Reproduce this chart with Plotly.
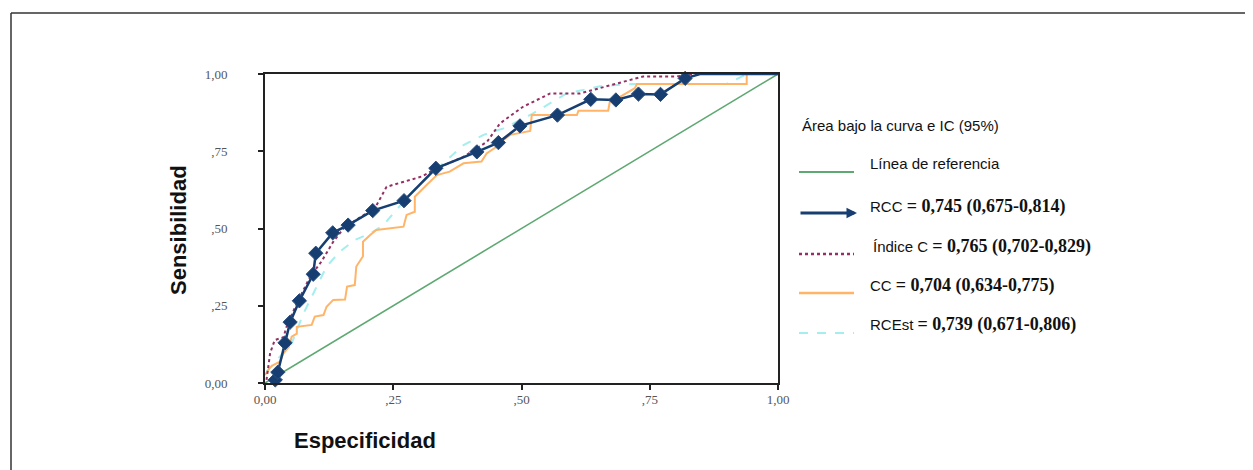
import plotly.graph_objects as go

# ---------------- data ----------------
ref_x = [0.0, 1.0]
ref_y = [0.0, 1.0]

rcc_x = [0.02, 0.025, 0.039, 0.049, 0.067, 0.094, 0.099, 0.132, 0.162, 0.21, 0.271, 0.333,
         0.413, 0.455, 0.497, 0.57, 0.635, 0.684, 0.728, 0.771, 0.819, 0.848, 0.94, 1.0]
rcc_y = [0.01, 0.035, 0.13, 0.197, 0.266, 0.352, 0.42, 0.486, 0.511, 0.558, 0.59, 0.695,
         0.748, 0.778, 0.832, 0.867, 0.918, 0.916, 0.935, 0.934, 0.986, 1.0, 1.0, 1.0]
rcc_marker_x = [0.02, 0.025, 0.039, 0.049, 0.067, 0.094, 0.099, 0.132, 0.162, 0.21, 0.271, 0.333,
                0.413, 0.455, 0.497, 0.57, 0.635, 0.684, 0.728, 0.771, 0.819]
rcc_marker_y = [0.01, 0.035, 0.13, 0.197, 0.266, 0.352, 0.42, 0.486, 0.511, 0.558, 0.59, 0.695,
                0.748, 0.778, 0.832, 0.867, 0.918, 0.916, 0.935, 0.934, 0.986]

ic_x = [0.003, 0.01, 0.019, 0.036, 0.042, 0.062, 0.088, 0.11, 0.133, 0.153, 0.185, 0.214,
        0.237, 0.276, 0.305, 0.335, 0.387, 0.433, 0.458, 0.503, 0.556, 0.614, 0.653, 0.705,
        0.737, 0.802, 0.835, 0.88]
ic_y = [0.01, 0.097, 0.139, 0.148, 0.182, 0.258, 0.344, 0.393, 0.457, 0.5, 0.536, 0.565,
        0.635, 0.654, 0.668, 0.695, 0.732, 0.781, 0.84, 0.894, 0.937, 0.937, 0.954, 0.979,
        0.992, 0.992, 1.0, 1.0]

cc_x = [0.0, 0.01, 0.016, 0.029, 0.036, 0.047, 0.052, 0.062, 0.062, 0.091, 0.097, 0.114,
        0.12, 0.133, 0.156, 0.16, 0.175, 0.178, 0.191, 0.191, 0.205, 0.217, 0.27, 0.276,
        0.292, 0.292, 0.315, 0.335, 0.36, 0.387, 0.422, 0.432, 0.452, 0.458, 0.478, 0.517,
        0.52, 0.608, 0.611, 0.669, 0.673, 0.692, 0.721, 0.725, 0.809, 0.939, 0.939, 1.0]
cc_y = [0.026, 0.05, 0.058, 0.069, 0.096, 0.118, 0.15, 0.16, 0.182, 0.188, 0.215, 0.22,
        0.247, 0.269, 0.27, 0.312, 0.317, 0.377, 0.41, 0.457, 0.479, 0.495, 0.506, 0.544,
        0.554, 0.603, 0.641, 0.673, 0.684, 0.711, 0.717, 0.743, 0.765, 0.778, 0.803, 0.816,
        0.867, 0.867, 0.881, 0.881, 0.918, 0.926, 0.954, 0.968, 0.968, 0.968, 1.0, 1.0]

est_x = [0.003, 0.029, 0.052, 0.075, 0.101, 0.12, 0.146, 0.175, 0.205, 0.231, 0.25, 0.27,
         0.296, 0.322, 0.348, 0.387, 0.426, 0.465, 0.497, 0.52, 0.588, 0.653, 0.718, 0.9,
         0.94, 1.0]
est_y = [0.037, 0.085, 0.128, 0.225, 0.312, 0.377, 0.425, 0.463, 0.484, 0.511, 0.549, 0.587,
         0.635, 0.673, 0.711, 0.77, 0.803, 0.824, 0.851, 0.87, 0.937, 0.96, 0.968, 0.968,
         1.0, 1.0]

tick_vals = [0, 0.25, 0.5, 0.75, 1.0]
tick_text = ["0,00", ",25", ",50", ",75", "1,00"]

legend_title = "Área bajo la curva e IC (95%)"
legend_names = ["Línea de referencia", "RCC", "Índice C", "CC", "RCEst"]
legend_stats = ["", "= 0,745 (0,675-0,814)", "= 0,765 (0,702-0,829)",
                "= 0,704 (0,634-0,775)", "= 0,739 (0,671-0,806)"]

# ---------------- styles ----------------
C_REF = "#5ea872"
C_RCC = "#173e70"
C_IC = "#932f63"
C_CC = "#ffb468"
C_EST = "#a4eeee"

OFF = 8  # page body margin
W, H = 1253 - OFF, 470 - OFF
L, R, T, B = 265, 778, 74, 383  # plot area in screen pixels


def px(xp):
    return (xp - L) / (R - L)


def py(yp):
    return (B - yp) / (B - T)


fig = go.Figure()
fig.add_trace(go.Scatter(x=ref_x, y=ref_y, mode="lines",
                         line=dict(color=C_REF, width=1.6), hoverinfo="skip"))
fig.add_trace(go.Scatter(x=est_x, y=est_y, mode="lines",
                         line=dict(color=C_EST, width=2, dash="dash"), hoverinfo="skip"))
fig.add_trace(go.Scatter(x=cc_x, y=cc_y, mode="lines",
                         line=dict(color=C_CC, width=2), hoverinfo="skip"))
fig.add_trace(go.Scatter(x=ic_x, y=ic_y, mode="lines",
                         line=dict(color=C_IC, width=2, dash="dot"), hoverinfo="skip"))
fig.add_trace(go.Scatter(x=rcc_x, y=rcc_y, mode="lines",
                         line=dict(color=C_RCC, width=2.5), hoverinfo="skip"))
fig.add_trace(go.Scatter(x=rcc_marker_x, y=rcc_marker_y, mode="markers",
                         marker=dict(symbol="diamond", size=11, color=C_RCC,
                                     line=dict(color="#2a4f80", width=1)),
                         cliponaxis=False, hoverinfo="skip"))

axis_common = dict(range=[0, 1], tickvals=tick_vals, ticktext=tick_text,
                   showgrid=False, zeroline=False, showline=True, linecolor="#222",
                   linewidth=2, mirror=True, ticks="outside", ticklen=5, tickwidth=1.5,
                   tickcolor="#222",
                   tickfont=dict(family="Liberation Serif", size=13, color="#555"))
fig.update_xaxes(**axis_common, ticklabelstandoff=-2)
fig.update_yaxes(**axis_common, ticklabelstandoff=28)

shapes = [
    # outer frame
    dict(type="line", xref="paper", yref="paper", x0=px(11), x1=px(1300), y0=py(13), y1=py(13),
         line=dict(color="#333", width=1.5)),
    dict(type="line", xref="paper", yref="paper", x0=px(11), x1=px(11), y0=py(13), y1=py(500),
         line=dict(color="#333", width=1.5)),
]

sample_y = [172, 213, 254, 293, 333]
sample_styles = [(C_REF, 2, "solid"), (C_RCC, 3, "solid"), (C_IC, 2.5, "dot"),
                 (C_CC, 2.5, "solid"), (C_EST, 2, "dash")]
for yy, (col, wd, ds) in zip(sample_y, sample_styles):
    if col == C_RCC:
        continue
    shapes.append(dict(type="line", xref="paper", yref="paper", x0=px(799), x1=px(854),
                       y0=py(yy), y1=py(yy), line=dict(color=col, width=wd, dash=ds)))

annotations = [
    dict(text="<b>Sensibilidad</b>", xref="paper", yref="paper", x=px(178), y=py(230),
         textangle=-90, showarrow=False, xanchor="center", yanchor="middle",
         font=dict(family="Liberation Sans", size=22, color="#111")),
    dict(text="<b>Especificidad</b>", xref="paper", yref="paper", x=px(365), y=py(440),
         showarrow=False, xanchor="center", yanchor="middle",
         font=dict(family="Liberation Sans", size=22, color="#111")),
    dict(text=legend_title, xref="paper", yref="paper", x=px(800), y=py(125),
         showarrow=False, xanchor="left", yanchor="middle",
         font=dict(family="Liberation Sans", size=15, color="#111")),
    # RCC legend sample with arrow head
    dict(text="", xref="paper", yref="paper", x=px(857), y=py(213), ax=-58, ay=0,
         showarrow=True, arrowhead=2, arrowsize=0.7, arrowwidth=3, arrowcolor=C_RCC),
]

text_y = [163, 206, 246, 285, 324]
text_x = [868, 868, 871, 868, 868]
for nm, st, yy, xx in zip(legend_names, legend_stats, text_y, text_x):
    txt = nm
    if st:
        txt = (nm + " <span style='font-family:Liberation Serif;font-size:18px'><b>"
               + st + "</b></span>")
    annotations.append(dict(text=txt, xref="paper", yref="paper", x=px(xx), y=py(yy),
                            showarrow=False, xanchor="left", yanchor="middle",
                            font=dict(family="Liberation Sans", size=15, color="#111")))

fig.update_layout(
    width=W, height=H,
    margin=dict(l=L - OFF, r=W - (R - OFF), t=T - OFF, b=H - (B - OFF), pad=0),
    paper_bgcolor="white", plot_bgcolor="white",
    showlegend=False,
    shapes=shapes, annotations=annotations,
)

fig.write_html("out.html")
